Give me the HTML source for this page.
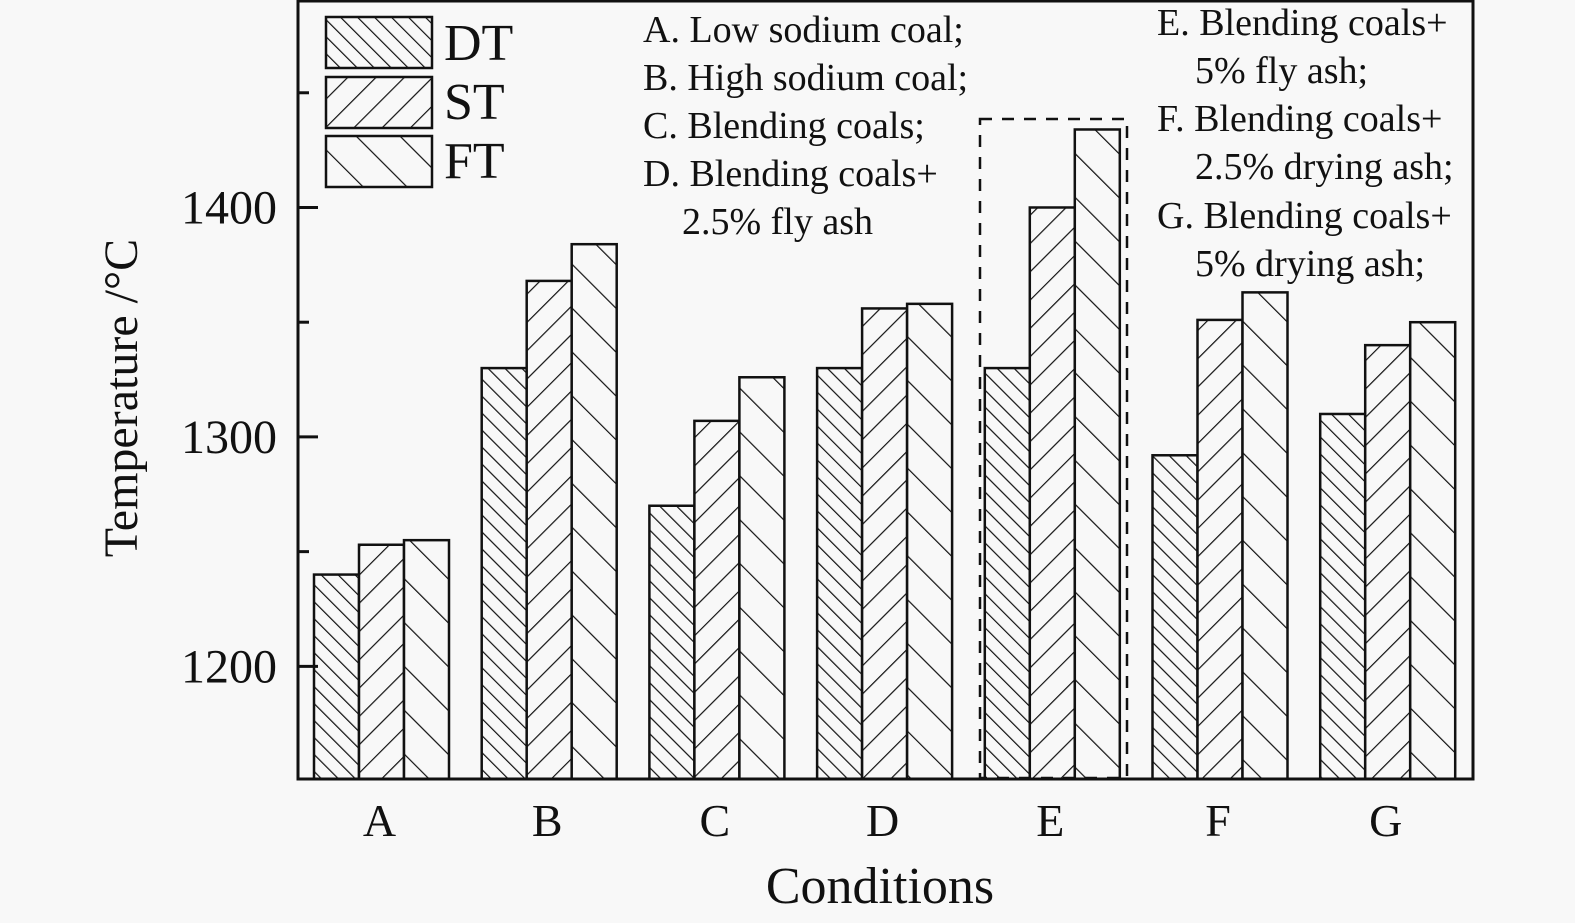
<!DOCTYPE html>
<html><head><meta charset="utf-8"><style>
html,body{margin:0;padding:0;background:#f8f8f8;}
svg{display:block;font-family:"Liberation Serif",serif;}
</style></head><body>
<svg id="chart" width="1575" height="923" viewBox="0 0 1575 923" xmlns="http://www.w3.org/2000/svg">
<defs>
<pattern id="pDT" patternUnits="userSpaceOnUse" width="12" height="12" patternTransform="rotate(-45)"><rect width="12" height="12" fill="#f8f8f8"/><line x1="0" y1="0" x2="0" y2="12" stroke="#111" stroke-width="2.4"/></pattern>
<pattern id="pST" patternUnits="userSpaceOnUse" width="20" height="20" patternTransform="rotate(45)"><rect width="20" height="20" fill="#f8f8f8"/><line x1="0" y1="0" x2="0" y2="20" stroke="#111" stroke-width="2.4"/></pattern>
<pattern id="pFT" patternUnits="userSpaceOnUse" width="31" height="31" patternTransform="rotate(-45)"><rect width="31" height="31" fill="#f8f8f8"/><line x1="0" y1="0" x2="0" y2="31" stroke="#111" stroke-width="2.4"/></pattern>
</defs>
<g id="bars"></g>
<g id="axes"></g>
<rect x="980" y="119" width="147" height="659" fill="none" stroke="#111" stroke-width="2.5" stroke-dasharray="12,10"/>
<g>
<rect x="326" y="17" width="106" height="51" fill="url(#pDT)" stroke="#111" stroke-width="2.5"/>
<rect x="326" y="77" width="106" height="51" fill="url(#pST)" stroke="#111" stroke-width="2.5"/>
<rect x="326" y="136" width="106" height="51" fill="url(#pFT)" stroke="#111" stroke-width="2.5"/>
<text x="444" y="60" font-size="52" fill="#111">DT</text>
<text x="444" y="119" font-size="52" fill="#111">ST</text>
<text x="444" y="178" font-size="52" fill="#111">FT</text>
</g>
<g font-size="38" fill="#111">
<text x="643" y="42">A. Low sodium coal;</text>
<text x="643" y="90">B. High sodium coal;</text>
<text x="643" y="138">C. Blending coals;</text>
<text x="643" y="186">D. Blending coals+</text>
<text x="682" y="234">2.5% fly ash</text>
<text x="1157" y="35">E. Blending coals+</text>
<text x="1195" y="83">5% fly ash;</text>
<text x="1157" y="131">F. Blending coals+</text>
<text x="1195" y="179">2.5% drying ash;</text>
<text x="1157" y="228">G. Blending coals+</text>
<text x="1195" y="276">5% drying ash;</text>
</g>
<text x="880" y="903" font-size="52" text-anchor="middle" fill="#111">Conditions</text>
<text transform="translate(137,398) rotate(-90)" font-size="48" text-anchor="middle" fill="#111">Temperature /°C</text>
</svg>
<script>
const categories = ["A","B","C","D","E","F","G"];
const dtValues = [1240,1330,1270,1330,1330,1292,1310];
const stValues = [1253,1368,1307,1356,1400,1351,1340];
const ftValues = [1255,1384,1326,1358,1434,1363,1350];
const yTickLabels = [1200,1300,1400];
const yMinorTicks = [1250,1350,1450];

const NS="http://www.w3.org/2000/svg";
const plotL=298, plotR=1473, plotT=1, plotB=779;
const yMin=1150.9, yMax=1490;
function yScale(v){return plotB-(v-yMin)/(yMax-yMin)*(plotB-plotT);}
function xCenter(i){return 381.5+i*167.7;}
const barW=45;
const series=[{vals:dtValues,fill:"url(#pDT)",n:"dt"},{vals:stValues,fill:"url(#pST)",n:"st"},{vals:ftValues,fill:"url(#pFT)",n:"ft"}];
const bars=document.getElementById("bars");
categories.forEach((c,i)=>{
  series.forEach((s,k)=>{
    const r=document.createElementNS(NS,"rect");
    const x=xCenter(i)-1.5*barW+k*barW, y=yScale(s.vals[i]);
    r.setAttribute("x",x);r.setAttribute("y",y);
    r.setAttribute("width",barW);r.setAttribute("height",plotB-y);
    r.setAttribute("fill",s.fill);r.setAttribute("stroke","#111");r.setAttribute("stroke-width","2.5");
    
    
    bars.appendChild(r);
  });
});
const axes=document.getElementById("axes");
const frame=document.createElementNS(NS,"rect");
frame.setAttribute("x",plotL);frame.setAttribute("y",plotT);
frame.setAttribute("width",plotR-plotL);frame.setAttribute("height",plotB-plotT);
frame.setAttribute("fill","none");frame.setAttribute("stroke","#111");frame.setAttribute("stroke-width","3");


axes.appendChild(frame);
yTickLabels.forEach(v=>{
  const y=yScale(v);
  const l=document.createElementNS(NS,"line");
  l.setAttribute("x1",plotL);l.setAttribute("x2",plotL+20);l.setAttribute("y1",y);l.setAttribute("y2",y);
  l.setAttribute("stroke","#111");l.setAttribute("stroke-width","3");
  
  
  axes.appendChild(l);
  const t=document.createElementNS(NS,"text");
  t.setAttribute("x",277);t.setAttribute("y",y+16);t.setAttribute("text-anchor","end");
  t.setAttribute("font-size","48");t.setAttribute("fill","#111");t.textContent=v;
  
  
  axes.appendChild(t);
});
yMinorTicks.forEach(v=>{
  const y=yScale(v);
  const l=document.createElementNS(NS,"line");
  l.setAttribute("x1",plotL);l.setAttribute("x2",plotL+11);l.setAttribute("y1",y);l.setAttribute("y2",y);
  l.setAttribute("stroke","#111");l.setAttribute("stroke-width","3");
  
  
  axes.appendChild(l);
});
categories.forEach((c,i)=>{
  const t=document.createElementNS(NS,"text");
  t.setAttribute("x",xCenter(i)-2);t.setAttribute("y",836);t.setAttribute("text-anchor","middle");
  t.setAttribute("font-size","46");t.setAttribute("fill","#111");t.textContent=c;
  
  
  axes.appendChild(t);
});
</script>
</body></html>
